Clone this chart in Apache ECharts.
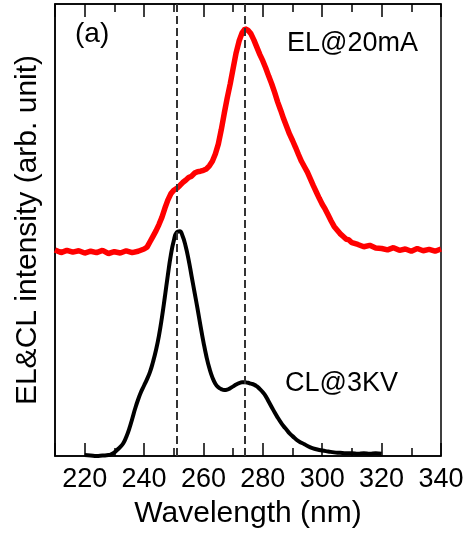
<!DOCTYPE html>
<html>
<head>
<meta charset="utf-8">
<script src="https://cdn.jsdelivr.net/npm/echarts@6/dist/echarts.min.js"></script>
<style>
html,body{margin:0;padding:0;background:#fff;}
#chart{width:472px;height:534px;}
</style>
</head>
<body>
<div id="chart"></div>
<script>
// Wavelength (nm) and intensity (arb. unit) of the EL spectrum at 20 mA (offset upward)
var elWavelength = [210,212,214,216,218,220,222,224,226,228,230,232,234,236,238,240,241,242,243,244,245,246,247,248,249,250,251,252,253,254,255,256,257,258,259,260,261,262,263,264,265,266,267,268,269,270,271,272,273,274,275,276,277,278,279,280,281,282,283,284,285,286,287,288,289,290,291,292,293,294,295,296,297,298,299,300,301,302,303,304,305,306,307,308,309,310,312,314,316,318,320,322,324,326,328,330,332,334,336,338,340];
var elIntensity = [45.6,45.0,45.5,45.1,45.4,44.9,45.3,45.0,45.5,44.8,45.2,44.9,45.4,45.0,45.3,45.8,46.2,47.4,48.6,49.8,51.2,52.8,54.8,56.6,58.0,58.8,59.2,59.8,60.5,61.0,61.6,61.9,62.6,62.9,63.0,63.2,63.5,64.2,65.2,66.8,69.0,72.2,75.8,79.2,82.3,85.8,89.2,91.8,93.6,94.5,94.2,93.4,92.0,90.4,88.8,87.4,85.8,84.0,82.3,80.4,78.3,76.5,74.6,72.9,71.2,69.8,68.3,66.7,65.2,64.0,62.8,61.3,59.8,58.4,57.0,55.7,54.6,53.3,52.0,50.8,50.0,49.2,48.6,48.0,47.8,47.2,46.8,46.3,46.6,46.0,45.9,45.6,46.1,45.5,45.8,45.3,45.9,45.4,45.7,45.3,45.8];

// CL spectrum at 3 kV
var clWavelength = [220,222,224,226,228,229,230,231,232,233,234,235,236,237,238,239,240,241,242,243,244,245,246,247,248,249,250,251,252,253,254,255,256,257,258,259,260,261,262,263,264,265,266,267,268,269,270,271,272,273,274,275,276,277,278,279,280,281,282,283,284,285,286,287,288,289,290,292,294,296,298,300,302,304,306,308,310,312,314,316,318,320];
var clIntensity = [0.2,0.1,0.0,0.1,0.2,0.4,0.8,1.4,2.0,2.8,4.2,6.0,8.2,10.5,12.5,14.2,15.6,17.0,18.6,20.8,23.4,26.6,30.6,35.2,40.0,44.4,47.6,49.5,49.7,48.6,46.4,43.4,39.8,36.2,32.6,28.8,25.2,22.0,19.4,17.4,16.0,15.2,14.8,14.6,14.7,15.0,15.4,15.8,16.1,16.3,16.3,16.2,16.0,15.8,15.4,14.8,14.1,13.2,12.0,10.8,9.6,8.5,7.5,6.6,5.8,5.0,4.4,3.3,2.6,1.9,1.5,1.2,1.0,0.8,0.7,0.6,0.6,0.5,0.6,0.5,0.6,0.5];

// Reference wavelengths marked with dashed lines
var markWavelengths = [251, 274];

// Axis settings
var xMin = 210, xMax = 340;
var tickLabelValues = [220,240,260,280,300,320,340];

function pairs(xs, ys){ return xs.map(function(x,i){ return [x, ys[i]]; }); }

var FONT = '"Liberation Sans", Arial, sans-serif';
var chart = echarts.init(document.getElementById('chart'), null, {renderer:'canvas'});

function xAxisDef(pos, showLabels){
  return {
    type:'value', position:pos, min:xMin, max:xMax, splitNumber:6,
    axisLine:{show:true, lineStyle:{color:'#000', width:1.5}},
    axisTick:{show:true, inside:true, length:13, lineStyle:{color:'#000', width:1.5}},
    minorTick:{show:true, splitNumber:2, length:8, lineStyle:{color:'#000', width:1.5}},
    axisLabel:{show:showLabels, fontFamily:FONT, fontSize:27, color:'#000', margin:10,
      formatter:function(v){ return tickLabelValues.indexOf(v) >= 0 ? String(v) : ''; }},
    splitLine:{show:false},
    name: showLabels ? 'Wavelength (nm)' : '',
    nameLocation:'middle', nameGap:43,
    nameTextStyle:{fontFamily:FONT, fontSize:30, color:'#000'}
  };
}

var option = {
  animation:false,
  grid:{left:55, right:31, top:4, bottom:76, show:true, borderColor:'#000', borderWidth:1.5, backgroundColor:'rgba(0,0,0,0)'},
  xAxis:[ xAxisDef('bottom', true), xAxisDef('top', false) ],
  yAxis:{
    type:'value', position:'left', min:0, max:100,
    axisLine:{show:true, lineStyle:{color:'#000', width:1.5}},
    axisTick:{show:false}, axisLabel:{show:false}, splitLine:{show:false},
    name:'EL&CL intensity (arb. unit)', nameLocation:'middle', nameGap:12, nameRotate:90,
    nameTextStyle:{fontFamily:FONT, fontSize:30, color:'#000'}
  },
  series:[
    {
      type:'line', data:[], z:1, silent:true,
      markLine:{
        silent:true, symbol:['none','none'], label:{show:false},
        lineStyle:{color:'#333', width:2, type:[8,4]},
        data: markWavelengths.map(function(w){ return {xAxis:w}; })
      }
    },
    {
      name:'EL@20mA', type:'line', showSymbol:false, smooth:false, z:3,
      lineStyle:{color:'#ff0000', width:5.5}, itemStyle:{color:'#ff0000'},
      data: pairs(elWavelength, elIntensity)
    },
    {
      name:'CL@3KV', type:'line', showSymbol:false, smooth:true, z:3,
      lineStyle:{color:'#000', width:4}, itemStyle:{color:'#000'},
      data: pairs(clWavelength, clIntensity)
    }
  ],
  graphic:[
    {type:'text', left:75, top:20, style:{text:'(a)', font:'28px '+FONT, fill:'#000'}},
    {type:'text', left:287, top:30, style:{text:'EL@20mA', font:'27px '+FONT, fill:'#000'}},
    {type:'text', left:285, top:370, style:{text:'CL@3KV', font:'27px '+FONT, fill:'#000'}}
  ]
};
chart.setOption(option);
</script>
</body>
</html>
